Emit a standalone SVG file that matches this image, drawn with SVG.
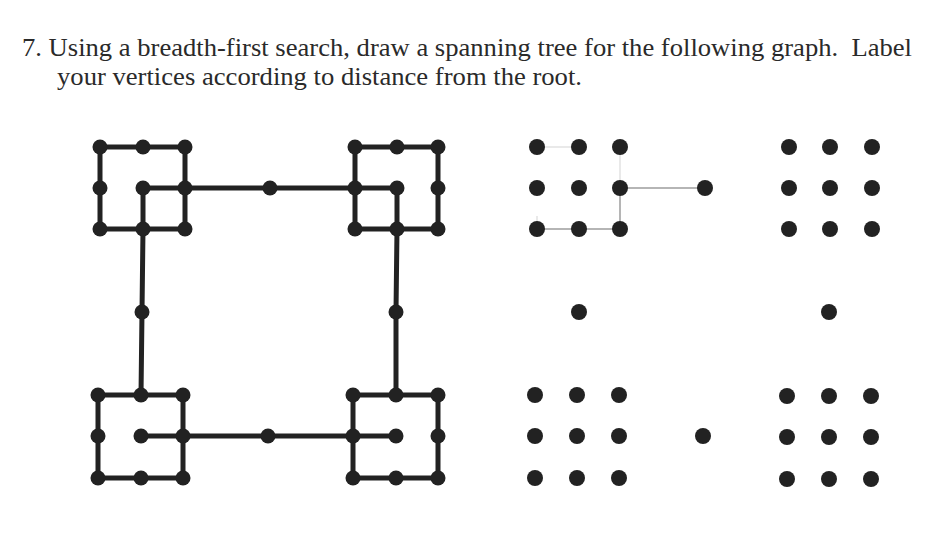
<svg xmlns="http://www.w3.org/2000/svg" width="948" height="556" viewBox="0 0 948 556">
<style>
.e{stroke:#222;stroke-width:5;fill:none;stroke-linecap:round;stroke-linejoin:round}
.g{stroke:#b5b5b5;stroke-width:2;fill:none}
.g2{stroke:#e2e2e2;stroke-width:1.5;fill:none}
.n{fill:#222}
.t{font-family:"Liberation Serif",serif;font-size:25px;fill:#2a2a2a}
</style>
<rect width="948" height="556" fill="#fff"/>
<text class="t" x="22" y="56" textLength="890" lengthAdjust="spacingAndGlyphs" xml:space="preserve">7. Using a breadth-first search, draw a spanning tree for the following graph.  Label</text>
<text class="t" x="57" y="85" textLength="525" lengthAdjust="spacingAndGlyphs">your vertices according to distance from the root.</text>
<g id="connectors">
<path class="e" d="M100,147H185M100,147V229M185,147V229M100,229H185M143,188H185M143,188V229"/>
<path class="e" d="M185,188H355"/>
<path class="e" d="M355,147H438M355,147V229M438,147V229M355,229H438M355,188H397M397,188V229"/>
<path class="e" d="M143,229L142,312L141,395M397,229L396,312L396,395"/>
<path class="e" d="M98,395H183M98,395V478M183,395V478M98,478H183M141,436H183"/>
<path class="e" d="M183,436H353"/>
<path class="e" d="M353,395H438M353,395V478M438,395V478M353,478H438M353,436H396"/>
<path class="g" d="M620,188H705M620,188V229M537,229H620"/>
<path class="g2" d="M620,147V188M537,216V229M537,147H579"/>
</g>
<g id="left-graph" class="n">
<g id="tl"><circle cx="100" cy="147" r="7.5"/><circle cx="143" cy="147" r="7.5"/><circle cx="185" cy="147" r="7.5"/><circle cx="100" cy="188" r="7.5"/><circle cx="143" cy="188" r="7.5"/><circle cx="185" cy="188" r="7.5"/><circle cx="100" cy="229" r="7.5"/><circle cx="143" cy="229" r="7.5"/><circle cx="185" cy="229" r="7.5"/></g>
<g id="tr"><circle cx="355" cy="147" r="7.5"/><circle cx="397" cy="147" r="7.5"/><circle cx="438" cy="147" r="7.5"/><circle cx="355" cy="188" r="7.5"/><circle cx="397" cy="188" r="7.5"/><circle cx="438" cy="188" r="7.5"/><circle cx="355" cy="229" r="7.5"/><circle cx="397" cy="229" r="7.5"/><circle cx="438" cy="229" r="7.5"/></g>
<g id="bl"><circle cx="98" cy="395" r="7.5"/><circle cx="141" cy="395" r="7.5"/><circle cx="183" cy="395" r="7.5"/><circle cx="98" cy="436" r="7.5"/><circle cx="141" cy="436" r="7.5"/><circle cx="183" cy="436" r="7.5"/><circle cx="98" cy="478" r="7.5"/><circle cx="141" cy="478" r="7.5"/><circle cx="183" cy="478" r="7.5"/></g>
<g id="br"><circle cx="353" cy="395" r="7.5"/><circle cx="396" cy="395" r="7.5"/><circle cx="438" cy="395" r="7.5"/><circle cx="353" cy="436" r="7.5"/><circle cx="396" cy="436" r="7.5"/><circle cx="438" cy="436" r="7.5"/><circle cx="353" cy="478" r="7.5"/><circle cx="396" cy="478" r="7.5"/><circle cx="438" cy="478" r="7.5"/></g>
<g id="mid"><circle cx="270" cy="188" r="7.5"/><circle cx="268" cy="436" r="7.5"/><circle cx="142" cy="312" r="7.5"/><circle cx="396" cy="312" r="7.5"/></g>
</g>
<g id="right-graph" class="n">
<g id="rtl"><circle cx="537" cy="147" r="8"/><circle cx="579" cy="147" r="8"/><circle cx="620" cy="147" r="8"/><circle cx="537" cy="188" r="8"/><circle cx="579" cy="188" r="8"/><circle cx="620" cy="188" r="8"/><circle cx="537" cy="229" r="8"/><circle cx="579" cy="229" r="8"/><circle cx="620" cy="229" r="8"/></g>
<g id="rtr"><circle cx="789" cy="147" r="8"/><circle cx="830" cy="147" r="8"/><circle cx="872" cy="147" r="8"/><circle cx="789" cy="188" r="8"/><circle cx="830" cy="188" r="8"/><circle cx="872" cy="188" r="8"/><circle cx="789" cy="229" r="8"/><circle cx="830" cy="229" r="8"/><circle cx="872" cy="229" r="8"/></g>
<g id="rbl"><circle cx="535" cy="395" r="8"/><circle cx="577" cy="395" r="8"/><circle cx="619" cy="395" r="8"/><circle cx="535" cy="436" r="8"/><circle cx="577" cy="436" r="8"/><circle cx="619" cy="436" r="8"/><circle cx="535" cy="478" r="8"/><circle cx="577" cy="478" r="8"/><circle cx="619" cy="478" r="8"/></g>
<g id="rbr"><circle cx="787" cy="396" r="8"/><circle cx="829" cy="396" r="8"/><circle cx="871" cy="396" r="8"/><circle cx="787" cy="437" r="8"/><circle cx="829" cy="437" r="8"/><circle cx="871" cy="437" r="8"/><circle cx="787" cy="479" r="8"/><circle cx="829" cy="479" r="8"/><circle cx="871" cy="479" r="8"/></g>
<g id="rmid"><circle cx="705" cy="188" r="8"/><circle cx="703" cy="436" r="8"/><circle cx="579" cy="312" r="8"/><circle cx="829" cy="312" r="8"/></g>
</g>
</svg>
